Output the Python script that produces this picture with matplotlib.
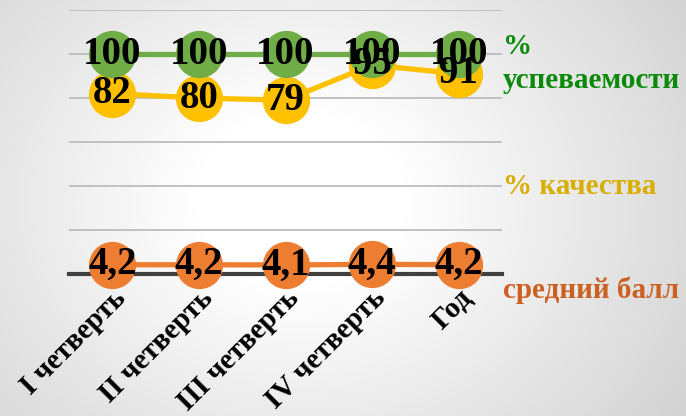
import numpy as np
import matplotlib
matplotlib.use("Agg")
import matplotlib.pyplot as plt
from matplotlib.colors import LinearSegmentedColormap

categories = ["I четверть", "II четверть", "III четверть", "IV четверть", "Год"]
uspev = [100, 100, 100, 100, 100]
kach = [82, 80, 79, 95, 91]
ball = [4.2, 4.2, 4.1, 4.4, 4.2]
ball_labels = ["4,2", "4,2", "4,1", "4,4", "4,2"]

W, H = 686, 416
fig = plt.figure(figsize=(W / 100, H / 100), dpi=100)

# background gradient
bg = fig.add_axes([0, 0, 1, 1], zorder=-10)
yy, xx = np.mgrid[0:H, 0:W]
cx, cy = 300, 200
r = np.sqrt(((xx - cx) / 1.15) ** 2 + ((yy - cy) / 0.95) ** 2)
v = np.clip((r - 90) / 330, 0, 1)
cmap = LinearSegmentedColormap.from_list("g", ["#ffffff", "#d0d0d0"])
bg.imshow(v, cmap=cmap, vmin=0, vmax=1, aspect="auto", extent=[0, W, H, 0])
bg.axis("off")

ax = fig.add_axes([69 / W, 1 - 274 / H, (502 - 69) / W, (274 - 10) / H])
ax.patch.set_alpha(0)
x = np.arange(len(categories))
ax.set_xlim(-0.5, len(categories) - 0.5)
ax.set_ylim(0, 120)
ax.set_yticks(np.arange(0, 121, 20))
ax.yaxis.grid(True, color="#b8b8b8", lw=1.2)
ax.set_axisbelow(True)
for s in ["top", "right", "left"]:
    ax.spines[s].set_visible(False)
ax.spines["bottom"].set_color("#404040")
ax.spines["bottom"].set_linewidth(3)
ax.tick_params(axis="y", left=False, labelleft=False)
ax.tick_params(axis="x", bottom=False, pad=4)
ax.set_xticks(x)
ax.set_xticklabels(categories, rotation=45, ha="right", va="top",
                   rotation_mode="anchor", fontsize=21, fontweight="bold",
                   family="Liberation Serif")

ms = 33
lw = 3.8
series = [
    (ball, "#ED7D31", ball_labels),
    (kach, "#FFC000", [str(v) for v in kach]),
    (uspev, "#70AD47", [str(v) for v in uspev]),
]
for i, (vals, col, labs) in enumerate(series):
    ax.plot(x, vals, color=col, lw=lw, marker="o", ms=ms, mec=col,
            mfc=col, zorder=3 + i, clip_on=False)
for i, (vals, col, labs) in enumerate(series):
    for xi, vi, lab in zip(x, vals, labs):
        ax.text(xi, vi, lab, ha="center", va="center", fontsize=28,
                fontweight="bold", family="Liberation Serif", color="black",
                zorder=10)

tkw = dict(fontweight="bold", family="Liberation Serif", fontsize=21,
           transform=fig.transFigure, ha="left", va="center")
fig.text(503 / W, 1 - 47 / H, "%", color="#0A8A0A", **tkw)
fig.text(503 / W, 1 - 80 / H, "успеваемости", color="#0A8A0A", **tkw)
fig.text(503 / W, 1 - 186 / H, "% качества", color="#D8AE00", **tkw)
fig.text(503 / W, 1 - 290 / H, "средний балл", color="#CC6020", **tkw)

fig.savefig("out.png", dpi=100)
